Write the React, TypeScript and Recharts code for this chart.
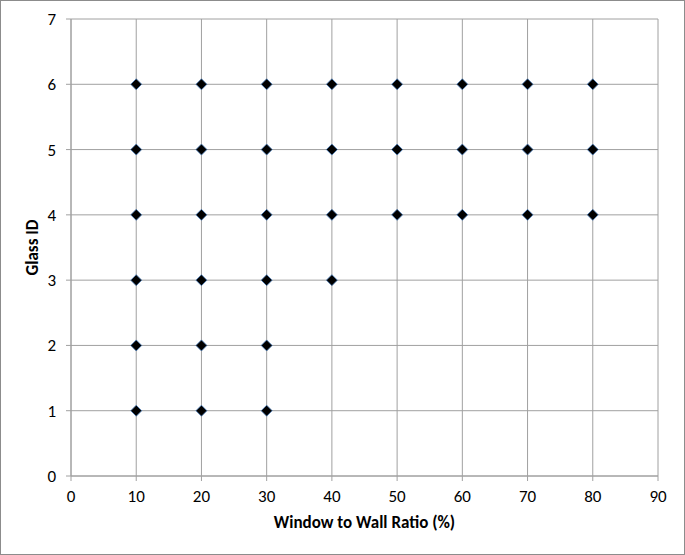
import React from 'react';
import { ScatterChart, Scatter, XAxis, YAxis, CartesianGrid, Label } from 'recharts';

const ratios = [10, 20, 30, 40, 50, 60, 70, 80];
const glassIdsPerRatio = [
  [1, 2, 3, 4, 5, 6],
  [1, 2, 3, 4, 5, 6],
  [1, 2, 3, 4, 5, 6],
  [3, 4, 5, 6],
  [4, 5, 6],
  [4, 5, 6],
  [4, 5, 6],
  [4, 5, 6],
];
const xTicks = [0, 10, 20, 30, 40, 50, 60, 70, 80, 90];
const yTicks = [0, 1, 2, 3, 4, 5, 6, 7];

const points = ratios.flatMap((r, i) => glassIdsPerRatio[i].map((g) => ({ x: r, y: g })));

const Diamond = (props: any) => {
  const { cx, cy } = props;
  const r = 5.5;
  return (
    <polygon
      points={`${cx},${cy - r} ${cx + r},${cy} ${cx},${cy + r} ${cx - r},${cy}`}
      fill="#000"
      stroke="#4a7ebb"
      strokeWidth={0.8}
    />
  );
};

const font = 'Carlito, Calibri, "Open Sans", "Liberation Sans", sans-serif';
const gridColor = '#a0a0a0';

export default function App() {
  return (
    <div style={{ position: 'absolute', left: 0, top: 0, width: 685, height: 555, background: '#fff' }}>
      <div style={{ position: 'absolute', left: 0, top: 0, width: 683, height: 553, border: '1px solid #8c8c8c' }} />
      <ScatterChart width={685} height={555} margin={{ top: 19, right: 27, left: 11, bottom: 19 }}>
        <CartesianGrid stroke={gridColor} strokeWidth={1} />
        <XAxis
          type="number"
          dataKey="x"
          domain={[0, 90]}
          ticks={xTicks}
          interval={0}
          height={60}
          stroke={gridColor}
          tickSize={5}
          tick={{ fill: '#000', fontSize: 17, fontFamily: font }}
          tickMargin={9}
        >
          <Label
            value="Window to Wall Ratio (%)"
            position="insideBottom"
            offset={8}
            style={{ fill: '#000', fontSize: 17, fontWeight: 'bold', fontFamily: font }}
          />
        </XAxis>
        <YAxis
          type="number"
          dataKey="y"
          domain={[0, 7]}
          ticks={yTicks}
          interval={0}
          width={60}
          stroke={gridColor}
          tickSize={5}
          tick={{ fill: '#000', fontSize: 17, fontFamily: font }}
          tickMargin={10}
        >
          <Label
            value="Glass ID"
            angle={-90}
            position="insideLeft"
            offset={21}
            style={{ fill: '#000', fontSize: 17, fontWeight: 'bold', fontFamily: font, textAnchor: 'middle' }}
          />
        </YAxis>
        <Scatter data={points} shape={<Diamond />} isAnimationActive={false} />
      </ScatterChart>
    </div>
  );
}
